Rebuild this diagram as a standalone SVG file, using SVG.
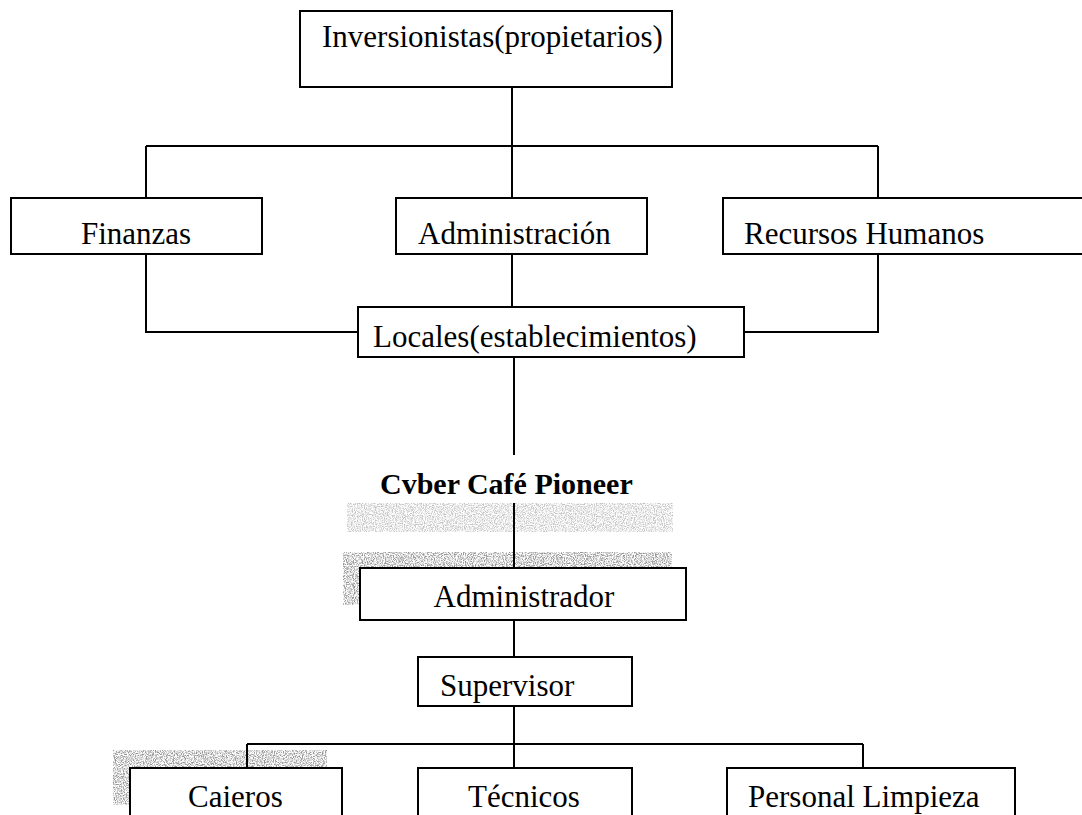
<svg xmlns="http://www.w3.org/2000/svg" width="1082" height="815" viewBox="0 0 1082 815">
  <style>
    .box { fill: #fff; stroke: #000; stroke-width: 2; }
    .lbl { font-family: "Liberation Serif", "Times New Roman", serif; font-size: 31px; fill: #000; }
    .mid { text-anchor: middle; }
    .title { font-family: "Liberation Serif", "Times New Roman", serif; font-size: 30px; font-weight: bold; fill: #000; }
    .wire { fill: none; stroke: #000; stroke-width: 2; }
    .speckle { fill: #000; filter: url(#grain); }
    .faint { opacity: 0.55; }
  </style>
  <defs>
    <!-- photocopy speckle used for the gray halftone bands -->
    <filter id="grain" x="0" y="0" width="100%" height="100%">
      <feTurbulence type="fractalNoise" baseFrequency="0.9" numOctaves="2" seed="4" result="n"/>
      <feColorMatrix in="n" type="matrix" values="0 0 0 0 0.3  0 0 0 0 0.3  0 0 0 0 0.3  -3.2 0 0 0 1.95" result="g"/>
      <feComposite in="g" in2="SourceGraphic" operator="in"/>
    </filter>
  </defs>
  <rect width="1082" height="815" fill="#fff"/>

  <!-- halftone bands -->
  <g id="speckles">
    <rect class="speckle faint" x="347" y="503" width="326" height="29"/>
    <rect class="speckle" x="343" y="552" width="329" height="16"/>
    <rect class="speckle" x="343" y="568" width="17" height="37"/>
    <rect class="speckle" x="113" y="750" width="214" height="18"/>
    <rect class="speckle" x="113" y="768" width="17" height="37"/>
  </g>

  <!-- connectors -->
  <g id="connectors">
    <path class="wire" d="M512 87 V146 M146 146 H878 M146 146 V198 M512 146 V198 M878 146 V198"/>
    <path class="wire" d="M146 254 V332 H358 M512 254 V307 M878 254 V332 H744 M514 357 V455"/>
    <path class="wire" d="M514 503 V568 M514 620 V657 M514 706 V744 M247 744 H863 M247 744 V768 M514 744 V768 M863 744 V768"/>
  </g>

  <g id="n-inversionistas">
    <rect class="box" x="300" y="11" width="372" height="76"/>
    <text class="lbl" x="322" y="47">Inversionistas(propietarios)</text>
  </g>
  <g id="n-finanzas">
    <rect class="box" x="11" y="198" width="251" height="56"/>
    <text class="lbl mid" x="136" y="244">Finanzas</text>
  </g>
  <g id="n-administracion">
    <rect class="box" x="396" y="198" width="251" height="56"/>
    <text class="lbl" x="418" y="244">Administración</text>
  </g>
  <g id="n-rrhh">
    <rect class="box" x="723" y="198" width="370" height="56"/>
    <text class="lbl" x="744" y="244">Recursos Humanos</text>
  </g>
  <g id="n-locales">
    <rect class="box" x="358" y="307" width="386" height="50"/>
    <text class="lbl" x="373" y="347">Locales(establecimientos)</text>
  </g>
  <g id="n-cyber">
    <text class="title" x="380" y="494">Cvber Café Pioneer</text>
  </g>
  <g id="n-administrador">
    <rect class="box" x="360" y="568" width="326" height="52"/>
    <text class="lbl mid" x="524" y="607">Administrador</text>
  </g>
  <g id="n-supervisor">
    <rect class="box" x="418" y="657" width="214" height="49"/>
    <text class="lbl" x="440" y="696">Supervisor</text>
  </g>
  <g id="n-cajeros">
    <rect class="box" x="130" y="768" width="212" height="60"/>
    <text class="lbl" x="188" y="807">Caieros</text>
  </g>
  <g id="n-tecnicos">
    <rect class="box" x="418" y="768" width="214" height="60"/>
    <text class="lbl" x="468" y="807">Técnicos</text>
  </g>
  <g id="n-limpieza">
    <rect class="box" x="727" y="768" width="288" height="60"/>
    <text class="lbl" x="748" y="807">Personal Limpieza</text>
  </g>
</svg>
